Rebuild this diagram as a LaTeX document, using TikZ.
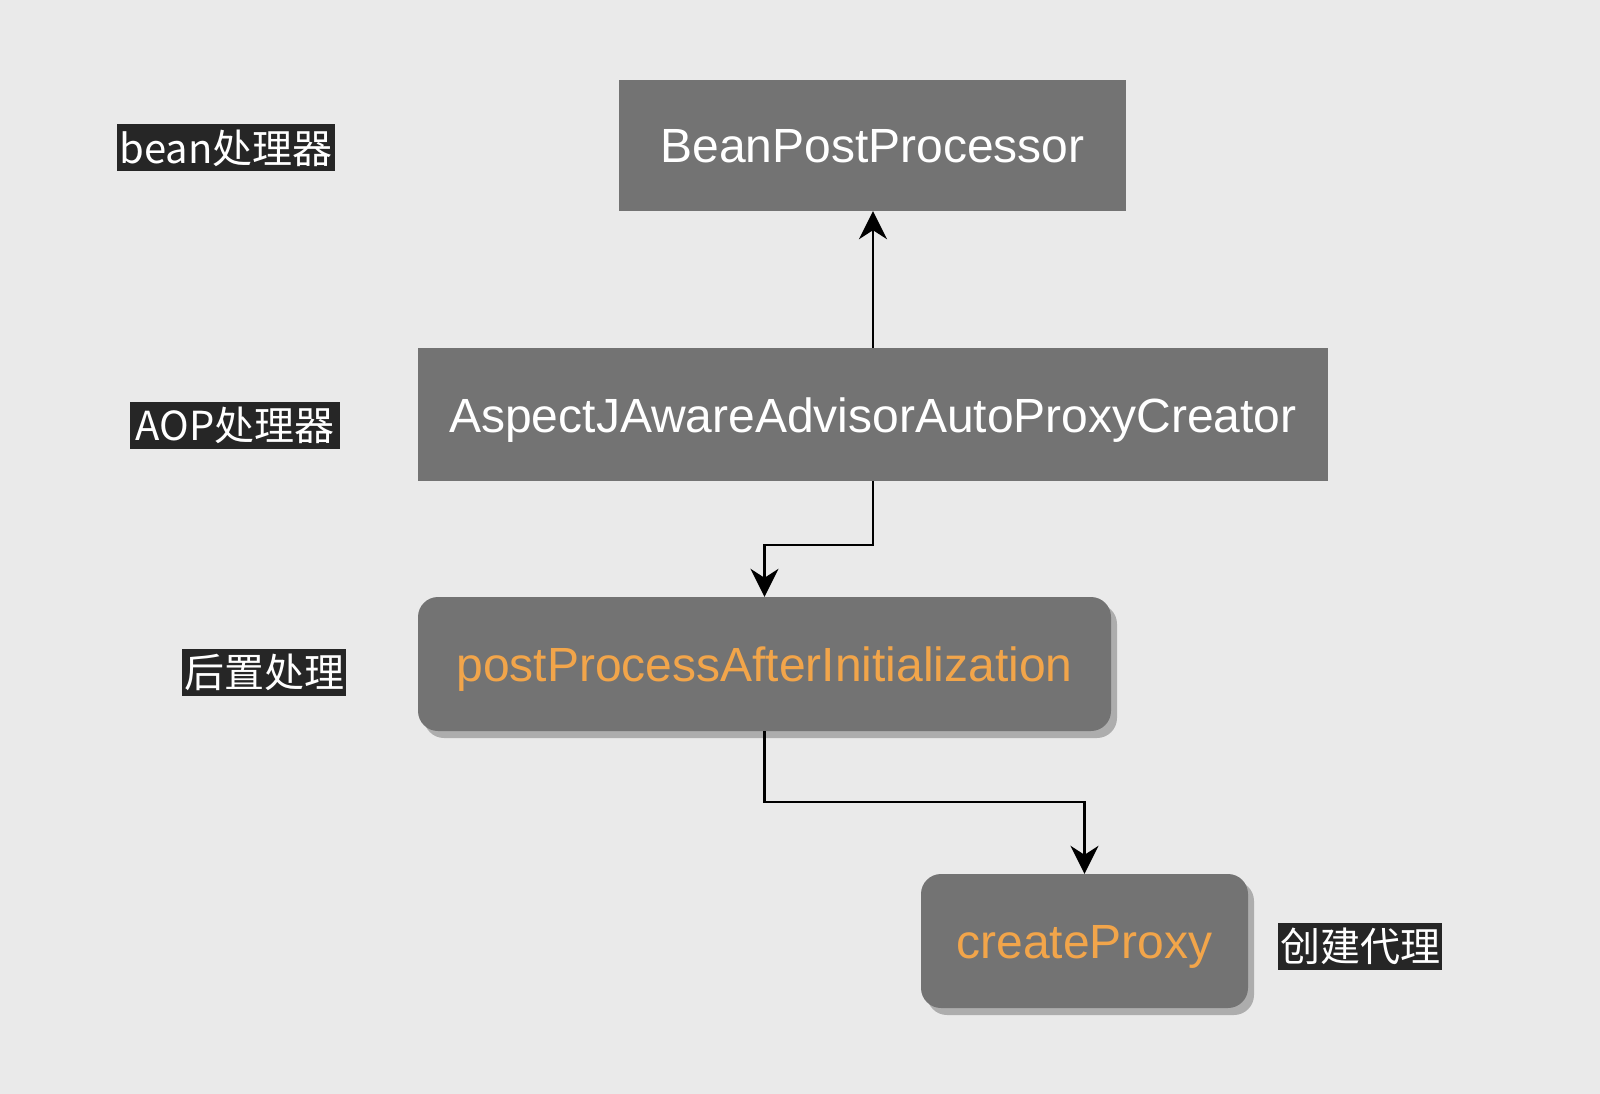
\documentclass[tikz,border=0pt]{standalone}
\usepackage{fontspec}
\setmainfont{Liberation Sans}
\newfontfamily\cjk{Noto Sans CJK SC}
\usetikzlibrary{arrows.meta,shadows}
\definecolor{bgc}{HTML}{EAEAEA}
\definecolor{boxc}{HTML}{737373}
\definecolor{orangec}{HTML}{F2A54A}
\definecolor{shadowc}{HTML}{ADADAD}
\definecolor{labelc}{HTML}{262626}
\tikzset{
  sqbox/.style={fill=boxc, draw=none, inner sep=0pt, text=white,
    text height=35pt, text depth=0pt,
    font=\fontsize{48}{54}\selectfont},
  rbox/.style={sqbox, rounded corners=20pt, text=orangec,
    drop shadow={shadow xshift=6pt, shadow yshift=-7pt, fill=shadowc, opacity=1}},
  tag/.style={fill=labelc, text=white, inner xsep=2pt, inner ysep=0pt,
    minimum height=47pt, font=\cjk\fontsize{40}{44}\selectfont},
  arr/.style={draw=black, line width=2.2pt,
    -{Stealth[length=28pt, width=28pt, inset=9pt]}}
}
\begin{document}
\begin{tikzpicture}[x=1pt, y=-1pt]
  \fill[bgc] (0,0) rectangle (1600,1094);
  \useasboundingbox (0,0) rectangle (1600,1094);

  \node[sqbox, minimum width=507pt, minimum height=131pt] (bpp) at (872.5,145.5) {BeanPostProcessor};
  \node[sqbox, minimum width=910pt, minimum height=133pt] (asp) at (873,414.5) {AspectJAwareAdvisorAutoProxyCreator};
  \node[rbox, minimum width=693pt, minimum height=134pt] (ppa) at (764.5,664) {postProcessAfterInitialization};
  \node[rbox, minimum width=327pt, minimum height=134pt] (cp) at (1084.5,941) {createProxy};

  \node[tag] (l1) at (226,148) {bean处理器};
  \node[tag, inner xsep=6pt] (l2) at (235,425) {AOP处理器};
  \node[tag] (l3) at (264,672) {后置处理};
  \node[tag] (l4) at (1360,946) {创建代理};

  \draw[arr] (asp.north) -- (asp.north |- bpp.south);
  \draw[arr] (asp.south) -- ++(0,64) -| (ppa.north);
  \draw[arr] (ppa.south) -- ++(0,71) -| (cp.north);
\end{tikzpicture}
\end{document}
